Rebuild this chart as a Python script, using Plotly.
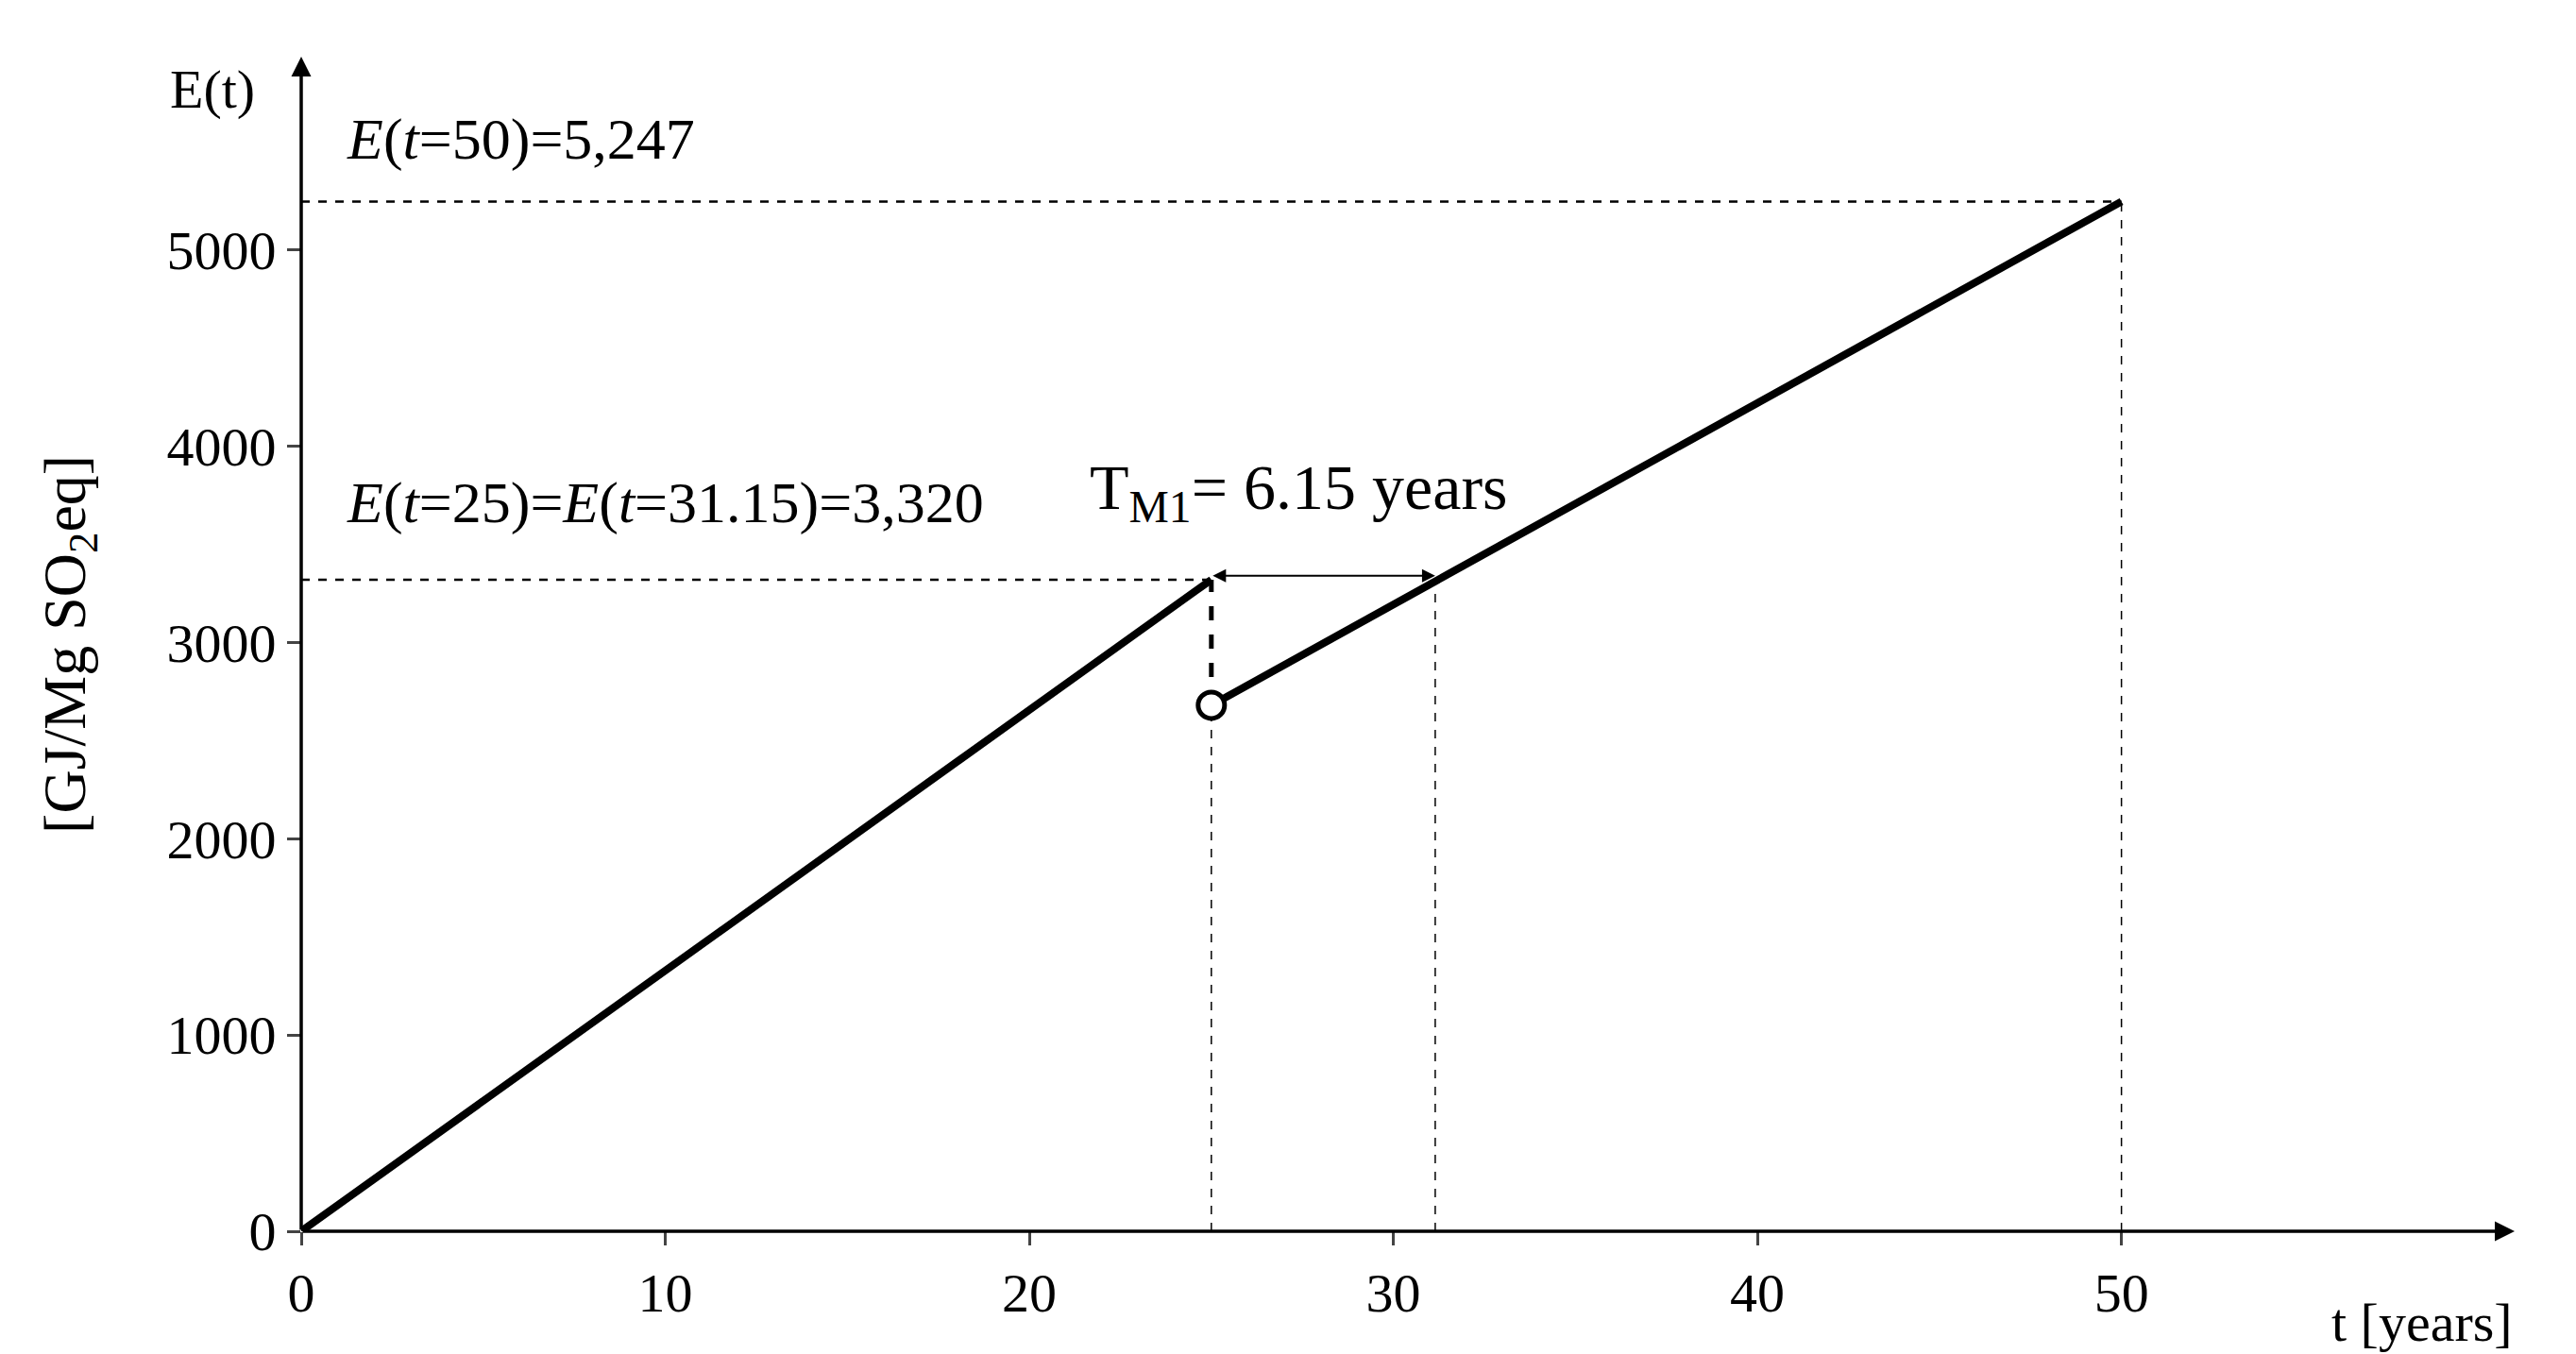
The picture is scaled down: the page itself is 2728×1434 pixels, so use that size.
import plotly.graph_objects as go

t1 = [0, 25]
e1 = [0, 3320]
t2 = [25, 50]
e2 = [2680, 5247]
t_jump = [25, 25]
e_jump = [2680, 3320]
t_eq = 31.15
e_eq = 3320
t_end = 50
e_end = 5247
xticks = [0, 10, 20, 30, 40, 50]
yticks = [0, 1000, 2000, 3000, 4000, 5000]

F = "Liberation Serif"
fig = go.Figure()
dash_thin = dict(color="black", width=1.5, dash="dash")
fig.add_trace(go.Scatter(x=[0, t_end], y=[e_end, e_end], mode="lines", line=dict(color="black", width=2.5, dash="dash")))
fig.add_trace(go.Scatter(x=[t_end, t_end], y=[0, e_end], mode="lines", line=dash_thin))
fig.add_trace(go.Scatter(x=[0, 25], y=[e_eq, e_eq], mode="lines", line=dict(color="black", width=2.5, dash="dash")))
fig.add_trace(go.Scatter(x=[25, 25], y=[0, e2[0]], mode="lines", line=dash_thin))
fig.add_trace(go.Scatter(x=[t_eq, t_eq], y=[0, e_eq], mode="lines", line=dash_thin))
fig.add_trace(go.Scatter(x=t_jump, y=e_jump, mode="lines", line=dict(color="black", width=5, dash="dash")))
fig.add_trace(go.Scatter(x=t1, y=e1, mode="lines", line=dict(color="black", width=8)))
fig.add_trace(go.Scatter(x=t2, y=e2, mode="lines", line=dict(color="black", width=8)))
fig.add_trace(go.Scatter(x=[t2[0]], y=[e2[0]], mode="markers",
                         marker=dict(size=28, color="white", line=dict(color="black", width=5))))

ann = [
    dict(x=60.8, y=0, ax=0, ay=0, xref="x", yref="y", axref="x", ayref="y", text="",
         showarrow=True, arrowhead=2, arrowsize=1.2, arrowwidth=3.5, arrowcolor="black"),
    dict(x=0, y=5985, ax=0, ay=0, xref="x", yref="y", axref="x", ayref="y", text="",
         showarrow=True, arrowhead=2, arrowsize=1.2, arrowwidth=3.5, arrowcolor="black"),
    dict(x=t_eq, y=e_eq + 20, ax=25, ay=e_eq + 20, xref="x", yref="y", axref="x", ayref="y", text="",
         showarrow=True, arrowhead=2, startarrowhead=2, arrowside="end+start", arrowsize=1.4,
         arrowwidth=2, arrowcolor="black"),
    dict(x=1.2, y=5564, xref="x", yref="y", text="<i>E</i>(<i>t</i>=50)=5,247", showarrow=False,
         xanchor="left", font=dict(family=F, size=62, color="black")),
    dict(x=1.2, y=3712, xref="x", yref="y", text="<i>E</i>(<i>t</i>=25)=<i>E</i>(<i>t</i>=31.15)=3,320",
         showarrow=False, xanchor="left", font=dict(family=F, size=62, color="black")),
    dict(x=21.6, y=3771, xref="x", yref="y", text="T<sub>M1</sub>= 6.15 years", showarrow=False,
         xanchor="left", font=dict(family=F, size=68, color="black")),
    dict(x=-0.06, y=1.0, xref="paper", yref="paper", text="E(t)", showarrow=False,
         xanchor="left", yanchor="top", font=dict(family=F, size=58, color="black")),
    dict(x=-0.105, y=0.5, xref="paper", yref="paper", text="[GJ/Mg SO<sub>2</sub>eq]",
         showarrow=False, textangle=-90, xanchor="center", font=dict(family=F, size=64, color="black")),
    dict(x=1.0, y=-0.05, xref="paper", yref="paper", text="t [years]", showarrow=False,
         xanchor="right", yanchor="top", font=dict(family=F, size=58, color="black")),
]
fig.update_layout(
    width=2728, height=1434, plot_bgcolor="white", paper_bgcolor="white", showlegend=False,
    margin=dict(l=311, r=73, t=52, b=138),
    annotations=ann,
    xaxis=dict(range=[0, 60.8], tickvals=xticks, ticks="outside", ticklen=14, tickwidth=3,
               showgrid=False, zeroline=False, showline=False,
               tickfont=dict(family=F, size=58, color="black")),
    yaxis=dict(range=[0, 5985], tickvals=yticks, ticks="outside", ticklen=14, tickwidth=3,
               showgrid=False, zeroline=False, showline=False,
               tickfont=dict(family=F, size=58, color="black")),
)
fig.write_html("out.html")
